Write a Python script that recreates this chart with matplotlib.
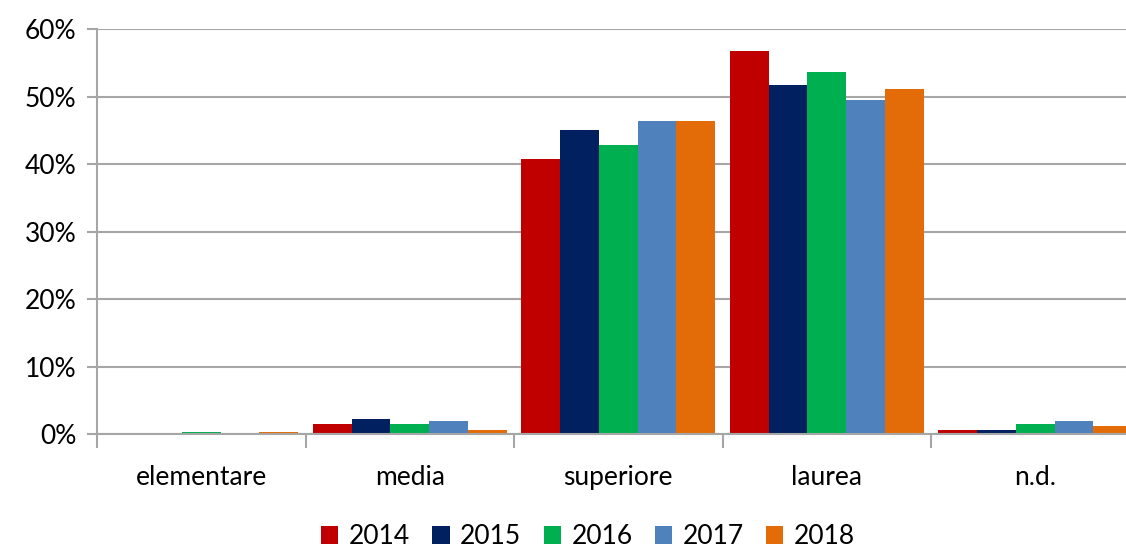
import numpy as np
import matplotlib.pyplot as plt
from matplotlib.ticker import FuncFormatter

categories = ['elementare', 'media', 'superiore', 'laurea', 'n.d.']
years = ['2014', '2015', '2016', '2017', '2018']
v2014 = [0.0, 1.6, 40.8, 56.8, 0.7]
v2015 = [0.0, 2.2, 45.1, 51.7, 0.7]
v2016 = [0.4, 1.6, 42.9, 53.7, 1.6]
v2017 = [0.0, 1.9, 46.4, 49.5, 1.9]
v2018 = [0.4, 0.7, 46.4, 51.1, 1.3]
colors = ['#C00000', '#002060', '#00B050', '#4F81BD', '#E36C09']

plt.rcParams['font.family'] = ['Lato', 'DejaVu Sans']

fig = plt.figure(figsize=(11.26, 5.48), dpi=100)
# plot area runs past the right edge of the picture, like the original crop
ax = fig.add_axes([97 / 1126, (548 - 434.3) / 548, 1042.5 / 1126, 405 / 548])

series = [v2014, v2015, v2016, v2017, v2018]
x = np.arange(len(categories))
bw = 0.186
handles = []
for i, vals in enumerate(series):
    h = ax.bar(x - 2 * bw + i * bw, vals, bw, color=colors[i], linewidth=0,
               label=years[i], zorder=3)
    handles.append(h)

ax.set_xlim(-0.5, len(categories) - 0.5)
ax.set_ylim(0, 60)
ax.set_yticks(np.arange(0, 61, 10))
ax.yaxis.set_major_formatter(FuncFormatter(lambda v, p: '%d%%' % v))
ax.grid(axis='y', color='#A6A6A6', linewidth=1.5, zorder=0)

ax.set_xticks(x)
ax.set_xticklabels(categories)
ax.set_xticks(np.arange(-0.5, len(categories), 1), minor=True)
ax.tick_params(axis='x', which='major', length=0, pad=22, labelsize=19)
ax.tick_params(axis='x', which='minor', length=10, width=1.5, color='#A6A6A6')
ax.tick_params(axis='y', length=7, width=1.5, color='#A6A6A6', pad=8, labelsize=19)

for s in ['top', 'right']:
    ax.spines[s].set_visible(False)
for s in ['left', 'bottom']:
    ax.spines[s].set_color('#A6A6A6')
    ax.spines[s].set_linewidth(1.5)
ax.spines['bottom'].set_zorder(4)

fig.legend(handles=handles, labels=years, loc='center', ncol=5,
           bbox_to_anchor=(588 / 1126, 1 - 537 / 548), frameon=False,
           fontsize=19, handlelength=0.65, handleheight=0.65,
           handletextpad=0.4, columnspacing=0.85)

fig.savefig('out.png', dpi=100)
